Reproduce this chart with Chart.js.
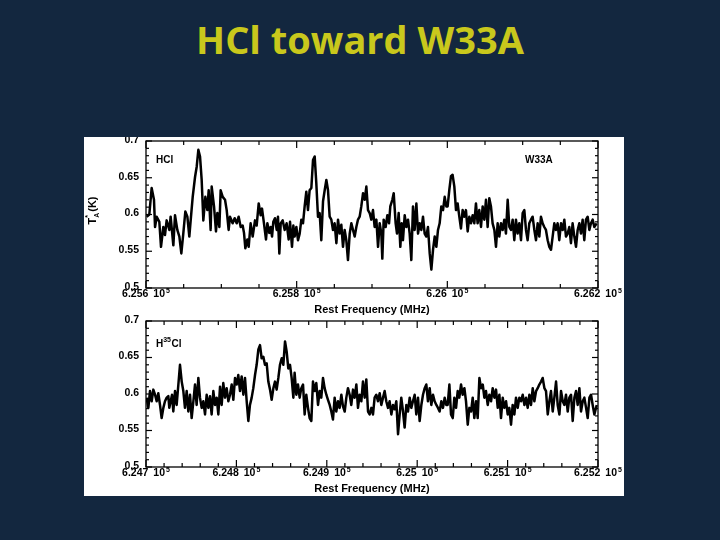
<!DOCTYPE html>
<html>
<head>
<meta charset="utf-8">
<script src="https://cdn.jsdelivr.net/npm/chart.js@4.4.1/dist/chart.umd.min.js"></script>
<style>
  html, body { margin:0; padding:0; }
  body { width:720px; height:540px; background:#13273f; position:relative; overflow:hidden; }
  #title { position:absolute; left:0; top:14px; width:720px; text-align:center;
           font-family:"Open Sans", sans-serif; font-weight:700; font-size:38px; line-height:50px;
           color:#c9c81c; }
  #box { position:absolute; left:84px; top:137px; width:540px; height:359px; background:#ffffff; }
  #c1 { position:absolute; left:0; top:0; }
  #c2 { position:absolute; left:0; top:178px; }
</style>
</head>
<body>
<div id="title">HCl toward W33A</div>
<div id="box">
  <canvas id="c1" width="540" height="178"></canvas>
  <canvas id="c2" width="540" height="181"></canvas>
</div>
<script>
// ---------- HCl spectrum (top panel) ----------
const freqHCl = [
  625600.9, 625604.4, 625607.5, 625610.6, 625612.0, 625614.2, 625617.7, 625619.9, 625623.0, 625625.2,
  625627.4, 625631.0, 625632.7, 625636.3, 625638.5, 625641.6, 625644.3, 625646.9, 625649.6, 625652.2,
  625654.9, 625657.5, 625659.3, 625662.0, 625665.1, 625667.3, 625669.5, 625671.7, 625673.9, 625676.1,
  625678.8, 625681.4, 625683.2, 625685.8, 625687.2, 625690.3, 625692.9, 625694.7, 625697.4, 625699.1,
  625701.8, 625704.9, 625707.1, 625709.7, 625711.5, 625715.0, 625717.7, 625720.4, 625723.0, 625725.7,
  625728.3, 625730.1, 625731.9, 625734.5, 625736.3, 625738.9, 625741.6, 625744.7, 625746.9, 625749.6,
  625752.2, 625754.0, 625756.6, 625759.3, 625761.1, 625763.7, 625765.5, 625767.3, 625769.0, 625771.2,
  625773.5, 625775.2, 625777.0, 625778.8, 625781.4, 625784.1, 625786.7, 625789.4, 625791.2, 625793.8,
  625795.6,
  625797.3, 625799.6, 625801.8, 625804.0, 625806.2, 625808.4, 625810.6, 625812.8, 625815.0, 625817.2,
  625819.5, 625821.7, 625823.9, 625826.1, 625828.3, 625830.5, 625832.7, 625835.0, 625837.2, 625839.4,
  625841.6, 625843.8, 625846.0, 625848.2, 625850.4, 625852.7, 625854.9, 625857.1, 625859.3, 625861.5,
  625863.7, 625865.9, 625868.1, 625870.4, 625872.6, 625874.8, 625877.0, 625879.2, 625881.4, 625883.6,
  625885.8, 625888.1, 625890.3, 625892.5, 625894.7, 625896.9, 625899.1, 625901.3, 625903.5, 625905.8,
  625908.0, 625910.2, 625912.4, 625913.7, 625915.5, 625918.1, 625920.4, 625922.6, 625924.3, 625927.0,
  625928.8, 625931.4, 625933.2, 625935.4, 625937.6, 625939.4, 625941.1, 625943.4, 625945.6, 625947.8,
  625950.0, 625952.2, 625954.4, 625956.6, 625958.9, 625961.1, 625963.3, 625965.5, 625967.7, 625969.9,
  625972.1, 625974.3, 625976.6, 625978.8, 625981.0, 625983.2, 625985.4, 625987.6, 625989.8, 625992.0,
  625994.3, 625996.5, 625998.7,
  626000.4, 626002.6, 626004.8, 626007.0, 626009.3, 626011.5, 626013.7, 626015.9, 626018.1, 626020.3,
  626022.5, 626024.7, 626027.0, 626029.2, 626031.4, 626033.6, 626035.8, 626038.0, 626040.2, 626042.4,
  626044.7, 626046.9, 626049.1, 626051.3, 626053.5, 626055.7, 626057.9, 626060.1, 626062.4, 626064.6,
  626066.8, 626069.0, 626071.2, 626073.4, 626075.6, 626077.8, 626080.1, 626082.3, 626084.5, 626086.7,
  626088.9, 626091.1, 626093.3, 626095.5, 626097.8, 626100.0, 626102.2, 626104.4, 626106.6, 626108.8,
  626111.0, 626113.2, 626115.5, 626117.7, 626119.9, 626122.1, 626124.3, 626126.5, 626128.7, 626130.9,
  626133.2, 626135.4, 626137.6, 626139.8, 626142.0, 626144.2, 626146.4, 626148.6, 626150.9, 626153.1,
  626155.3, 626157.5, 626159.7, 626161.9, 626164.1, 626166.3, 626168.6, 626170.8, 626173.0, 626175.2,
  626177.4, 626179.6, 626181.8, 626184.0, 626186.3, 626188.5, 626190.7, 626192.9, 626195.1, 626198.2
];
const tHCl = [
  0.597, 0.600, 0.636, 0.620, 0.583, 0.597, 0.590, 0.556, 0.583, 0.572,
  0.592, 0.579, 0.597, 0.558, 0.599, 0.579, 0.570, 0.547, 0.575, 0.604,
  0.597, 0.570, 0.592, 0.624, 0.651, 0.665, 0.688, 0.679, 0.647, 0.592,
  0.624, 0.606, 0.633, 0.579, 0.638, 0.611, 0.577, 0.602, 0.583, 0.633,
  0.624, 0.620, 0.606, 0.579, 0.597, 0.588, 0.595, 0.588, 0.597, 0.583,
  0.585, 0.575, 0.554, 0.566, 0.556, 0.588, 0.570, 0.592, 0.585, 0.615,
  0.599, 0.608, 0.588, 0.566, 0.588, 0.575, 0.583, 0.570, 0.590, 0.595,
  0.579, 0.597, 0.547, 0.588, 0.592, 0.579, 0.588, 0.566, 0.590, 0.556,
  0.585,
  0.570, 0.583, 0.565, 0.574, 0.593, 0.588, 0.611, 0.631, 0.606, 0.633,
  0.636, 0.674, 0.679, 0.642, 0.597, 0.602, 0.565, 0.618, 0.633, 0.647,
  0.633, 0.597, 0.593, 0.579, 0.588, 0.561, 0.593, 0.574, 0.586, 0.556,
  0.579, 0.565, 0.538, 0.574, 0.588, 0.579, 0.570, 0.583, 0.593, 0.597,
  0.611, 0.629, 0.620, 0.638, 0.606, 0.602, 0.593, 0.606, 0.583, 0.593,
  0.556, 0.588, 0.574, 0.540, 0.593, 0.583, 0.599, 0.588, 0.611, 0.620,
  0.629, 0.588, 0.574, 0.602, 0.556, 0.588, 0.565, 0.599, 0.583, 0.593,
  0.574, 0.538, 0.611, 0.579, 0.615, 0.574, 0.588, 0.579, 0.597, 0.574,
  0.570, 0.583, 0.547, 0.525, 0.552, 0.570, 0.556, 0.579, 0.588, 0.611,
  0.606, 0.624, 0.611,
  0.611, 0.633, 0.652, 0.654, 0.638, 0.606, 0.615, 0.597, 0.581, 0.606,
  0.597, 0.606, 0.577, 0.597, 0.588, 0.599, 0.588, 0.615, 0.588, 0.606,
  0.583, 0.611, 0.593, 0.620, 0.583, 0.622, 0.611, 0.588, 0.579, 0.556,
  0.588, 0.570, 0.588, 0.579, 0.593, 0.574, 0.620, 0.583, 0.579, 0.593,
  0.565, 0.593, 0.574, 0.588, 0.565, 0.602, 0.606, 0.579, 0.565, 0.588,
  0.593, 0.597, 0.579, 0.565, 0.588, 0.570, 0.597, 0.588, 0.583, 0.579,
  0.565, 0.556, 0.552, 0.570, 0.588, 0.579, 0.588, 0.565, 0.588, 0.579,
  0.593, 0.570, 0.574, 0.583, 0.561, 0.588, 0.570, 0.556, 0.579, 0.588,
  0.574, 0.593, 0.565, 0.593, 0.597, 0.579, 0.588, 0.593, 0.583, 0.588
];

// ---------- H35Cl spectrum (bottom panel) ----------
const freqH35Cl = [
  624700.7, 624702.6, 624704.4, 624706.3, 624708.1, 624710.0, 624711.8, 624713.6, 624715.5, 624717.3,
  624719.2, 624721.0, 624722.9, 624724.7, 624725.8, 624727.3, 624728.8, 624730.2, 624732.1, 624733.9,
  624735.8, 624737.6, 624739.5, 624741.3, 624743.1, 624745.0, 624746.8, 624748.7, 624750.5, 624752.4,
  624754.2, 624756.0, 624757.9, 624759.7, 624761.6, 624763.4, 624765.3, 624767.1, 624769.0, 624770.8,
  624772.6, 624774.5, 624776.3, 624778.2, 624780.0, 624781.9, 624783.7, 624785.5, 624787.4, 624789.2,
  624791.1, 624792.9, 624794.8, 624796.6, 624798.5, 624800.3, 624802.1, 624804.0, 624805.8, 624807.7,
  624809.5, 624811.4, 624813.2, 624815.0, 624816.9, 624818.7, 624820.6, 624822.4, 624824.3, 624826.1,
  624827.9, 624829.8, 624831.6, 624833.5, 624835.3, 624837.2, 624839.0, 624840.9, 624842.7, 624844.5,
  624846.4, 624848.2, 624850.1, 624851.9, 624853.8, 624855.6, 624857.4, 624859.3, 624861.1, 624863.0,
  624864.4, 624866.3, 624868.1, 624870.0, 624871.8, 624873.7, 624875.5, 624877.3, 624879.2, 624881.0,
  624882.9, 624884.7, 624886.6, 624888.4, 624890.3, 624892.1, 624893.9, 624895.8, 624897.6, 624899.5,
  624901.3, 624903.2, 624905.0, 624906.8, 624908.7, 624910.5, 624912.4, 624914.2, 624916.1, 624917.9,
  624919.8, 624921.6, 624923.4, 624925.3, 624927.1, 624929.0, 624930.8, 624932.7, 624934.5, 624936.3,
  624938.2, 624940.0, 624941.9, 624943.7, 624945.6, 624947.4, 624949.3, 624951.1, 624952.9, 624954.8,
  624956.6, 624958.5, 624960.3, 624962.2, 624964.0, 624965.8, 624967.7, 624969.5, 624971.4, 624973.2,
  624975.1, 624976.9, 624978.8, 624980.6, 624982.4, 624984.3, 624986.1, 624988.0, 624989.8, 624991.7,
  624993.5, 624995.3, 624997.2, 624999.0, 625000.9, 625002.7, 625004.6, 625006.4, 625008.3, 625010.1,
  625011.9, 625013.8, 625015.6, 625017.5, 625019.3, 625021.2, 625023.0, 625024.8, 625026.7, 625028.5,
  625030.4, 625032.2,
  625033.7, 625035.6, 625037.4, 625039.3, 625041.1, 625043.0, 625044.8, 625046.6, 625048.5, 625050.3,
  625052.2, 625054.0, 625055.9, 625057.7, 625059.6, 625061.4, 625063.2, 625065.1, 625066.9, 625068.8,
  625070.6, 625072.5, 625074.3, 625076.1, 625078.0, 625079.8, 625081.7, 625083.5, 625085.4, 625087.2,
  625089.1, 625090.9, 625092.7, 625094.6, 625096.4, 625098.3, 625100.1, 625101.9, 625103.8, 625105.6,
  625107.5, 625109.3, 625111.2, 625113.0, 625114.9, 625116.7, 625118.6, 625120.4, 625122.2, 625124.1,
  625125.9, 625127.8, 625129.6, 625131.5, 625133.3, 625135.1, 625137.0, 625138.8, 625140.7, 625142.5,
  625144.4, 625146.2, 625148.0, 625149.9, 625151.7, 625153.6, 625155.4, 625157.3, 625159.1, 625161.0,
  625162.8, 625164.6, 625166.5, 625168.3, 625170.2, 625172.0, 625173.9, 625175.7, 625177.5, 625179.4,
  625181.2, 625183.1, 625184.9, 625186.8, 625188.6, 625190.5, 625192.3, 625194.1, 625196.0, 625198.6
];
const tH35Cl = [
  0.595, 0.581, 0.604, 0.590, 0.606, 0.599, 0.590, 0.601, 0.585, 0.567,
  0.581, 0.590, 0.595, 0.597, 0.581, 0.590, 0.599, 0.576, 0.604, 0.585,
  0.613, 0.640, 0.617, 0.604, 0.581, 0.604, 0.576, 0.599, 0.567, 0.590,
  0.613, 0.585, 0.622, 0.595, 0.581, 0.590, 0.572, 0.599, 0.581, 0.597,
  0.572, 0.604, 0.585, 0.595, 0.572, 0.610, 0.585, 0.615, 0.595, 0.608,
  0.590, 0.599, 0.613, 0.592, 0.622, 0.613, 0.626, 0.604, 0.624, 0.599,
  0.622, 0.590, 0.563, 0.585, 0.595, 0.608, 0.626, 0.640, 0.661, 0.667,
  0.649, 0.651, 0.640, 0.642, 0.617, 0.606, 0.592, 0.608, 0.617, 0.606,
  0.622, 0.640, 0.649, 0.640, 0.672, 0.658, 0.635, 0.640, 0.622, 0.595,
  0.629, 0.599, 0.613, 0.595, 0.608, 0.613, 0.572, 0.599, 0.581, 0.567,
  0.563, 0.617, 0.604, 0.615, 0.585, 0.604, 0.595, 0.622, 0.608, 0.599,
  0.592, 0.585, 0.576, 0.565, 0.595, 0.576, 0.590, 0.581, 0.599, 0.583,
  0.576, 0.595, 0.608, 0.599, 0.585, 0.606, 0.595, 0.613, 0.581, 0.599,
  0.590, 0.617, 0.595, 0.620, 0.576, 0.572, 0.581, 0.572, 0.595, 0.599,
  0.590, 0.601, 0.585, 0.595, 0.604, 0.590, 0.581, 0.590, 0.572, 0.585,
  0.579, 0.590, 0.545, 0.572, 0.595, 0.576, 0.554, 0.585, 0.576, 0.595,
  0.581, 0.590, 0.599, 0.572, 0.595, 0.563, 0.585, 0.599, 0.608, 0.613,
  0.590, 0.608, 0.585, 0.599, 0.590, 0.585, 0.581, 0.576, 0.590, 0.581,
  0.595, 0.585,
  0.585, 0.613, 0.572, 0.567, 0.595, 0.581, 0.604, 0.595, 0.613, 0.599,
  0.608, 0.590, 0.558, 0.581, 0.576, 0.595, 0.567, 0.590, 0.567, 0.622,
  0.608, 0.613, 0.595, 0.604, 0.585, 0.599, 0.590, 0.608, 0.595, 0.606,
  0.581, 0.599, 0.567, 0.595, 0.581, 0.590, 0.572, 0.581, 0.558, 0.585,
  0.572, 0.595, 0.581, 0.595, 0.590, 0.599, 0.585, 0.595, 0.581, 0.599,
  0.585, 0.608, 0.590, 0.604, 0.608, 0.613, 0.617, 0.622, 0.608, 0.604,
  0.572, 0.590, 0.604, 0.576, 0.595, 0.617, 0.585, 0.572, 0.604, 0.590,
  0.585, 0.599, 0.576, 0.595, 0.599, 0.563, 0.595, 0.604, 0.585, 0.608,
  0.576, 0.590, 0.595, 0.581, 0.567, 0.595, 0.599, 0.585, 0.572, 0.585
];

// ---------- axis ticks and labels ----------
const hclXTicks = [625600, 625800, 626000, 626200];
const hclXTickLabels = ['6.256', '6.258', '6.26', '6.262'];
const h35XTicks = [624700, 624800, 624900, 625000, 625100, 625200];
const h35XTickLabels = ['6.247', '6.248', '6.249', '6.25', '6.251', '6.252'];
const yTicks = [0.5, 0.55, 0.6, 0.65, 0.7];
const yTickLabels = ['0.5', '0.55', '0.6', '0.65', '0.7'];
const xAxisTitle = 'Rest Frequency (MHz)';

const FONT = '"Liberation Sans", Arial, sans-serif';

const framePlugin = {
  id: 'specFrame',
  afterDatasetsDraw(chart, args, o) {
    const { ctx, chartArea: a, scales: { x, y } } = chart;
    ctx.save();
    ctx.strokeStyle = '#000';
    ctx.lineWidth = 1.3;
    ctx.strokeRect(a.left, a.top, a.right - a.left, a.bottom - a.top);
    ctx.lineWidth = 1.2;
    const seg = (x1, y1, x2, y2) => { ctx.beginPath(); ctx.moveTo(x1, y1); ctx.lineTo(x2, y2); ctx.stroke(); };
    // x ticks (bottom and top frame, pointing inward)
    const nx = Math.round((x.max - x.min) / o.xMinorStep);
    for (let i = 0; i <= nx; i++) {
      const v = x.min + i * o.xMinorStep;
      const px = x.getPixelForValue(v);
      const major = o.xTicks.some(t => Math.abs(t - v) < 1e-6);
      const len = major ? 7 : 4;
      seg(px, a.bottom, px, a.bottom - len);
      seg(px, a.top, px, a.top + len);
    }
    // y ticks (left and right frame)
    const ny = Math.round((y.max - y.min) / o.yMinorStep);
    for (let i = 0; i <= ny; i++) {
      const v = y.min + i * o.yMinorStep;
      const py = y.getPixelForValue(v);
      const major = yTicks.some(t => Math.abs(t - v) < 1e-6);
      const len = major ? 6 : 3;
      seg(a.left, py, a.left + len, py);
      seg(a.right, py, a.right - len, py);
    }
    ctx.fillStyle = '#000';
    // y tick labels
    ctx.font = 'bold 10.5px ' + FONT;
    ctx.textAlign = 'right';
    ctx.textBaseline = 'middle';
    yTicks.forEach((v, i) => ctx.fillText(yTickLabels[i], a.left - 7, y.getPixelForValue(v) - 1));
    // x tick labels "m 10^5"
    ctx.textBaseline = 'alphabetic';
    ctx.textAlign = 'left';
    o.xTicks.forEach((v, i) => {
      const px = x.getPixelForValue(v);
      ctx.font = 'bold 10.5px ' + FONT;
      const w1 = ctx.measureText(o.xLabels[i]).width;
      const w2 = ctx.measureText('10').width;
      ctx.font = 'bold 7px ' + FONT;
      const w3 = ctx.measureText('5').width;
      const gap = 5;
      const total = w1 + gap + w2 + 1 + w3;
      let sx = px - total / 2;
      const by = a.bottom + 9;
      ctx.font = 'bold 10.5px ' + FONT;
      ctx.fillText(o.xLabels[i], sx, by);
      ctx.fillText('10', sx + w1 + gap, by);
      ctx.font = 'bold 7px ' + FONT;
      ctx.fillText('5', sx + w1 + gap + w2 + 1, by - 4);
    });
    // x axis title
    ctx.font = 'bold 11px ' + FONT;
    ctx.textAlign = 'center';
    ctx.fillText(xAxisTitle, (a.left + a.right) / 2, a.bottom + 25);
    // in-panel labels
    ctx.textAlign = 'left';
    (o.labels || []).forEach(l => {
      let cx = l.fromRight ? a.right - l.dx : a.left + l.dx;
      const by = a.top + l.dy;
      l.parts.forEach(p => {
        ctx.font = 'bold ' + (p.sup ? 7 : 10) + 'px ' + FONT;
        ctx.fillText(p.t, cx, by - (p.sup ? 5 : 0));
        cx += ctx.measureText(p.t).width + (p.sup ? 0.5 : 0);
      });
    });
    // y axis title  T_A^* (K)
    if (o.yTitle) {
      ctx.save();
      ctx.translate(a.left - 50, (a.top + a.bottom) / 2 - 4);
      ctx.rotate(-Math.PI / 2);
      ctx.textAlign = 'left';
      ctx.font = 'bold 11px ' + FONT;
      const wT = ctx.measureText('T').width;
      ctx.font = 'bold 7px ' + FONT;
      const wA = ctx.measureText('A').width;
      ctx.font = 'bold 11px ' + FONT;
      const wK = ctx.measureText('(K)').width;
      let sx = -(wT + wA + 1 + wK) / 2;
      ctx.fillText('T', sx, 0);
      ctx.font = 'bold 7px ' + FONT;
      ctx.fillText('A', sx + wT, 3);
      ctx.fillText('*', sx + wT, -6);
      ctx.font = 'bold 11px ' + FONT;
      ctx.fillText('(K)', sx + wT + wA + 1, 0);
      ctx.restore();
    }
    ctx.restore();
  }
};

function makeChart(id, freq, temp, xmin, xmax, opts, padding) {
  return new Chart(document.getElementById(id), {
    type: 'line',
    data: {
      datasets: [{
        data: freq.map((f, i) => ({ x: f, y: temp[i] })),
        borderColor: '#000000',
        borderWidth: 2.5,
        pointRadius: 0,
        tension: 0,
        borderJoinStyle: 'round',
        fill: false
      }]
    },
    options: {
      responsive: false,
      animation: false,
      layout: { padding },
      scales: {
        x: { type: 'linear', min: xmin, max: xmax, display: false },
        y: { min: 0.5, max: 0.7, display: false }
      },
      plugins: {
        legend: { display: false },
        tooltip: { enabled: false },
        specFrame: opts
      }
    },
    plugins: [framePlugin]
  });
}

makeChart('c1', freqHCl, tHCl, 625600, 626200, {
  xTicks: hclXTicks, xLabels: hclXTickLabels, xMinorStep: 50, yMinorStep: 0.01, yTitle: true,
  labels: [
    { dx: 10, dy: 22, parts: [{ t: 'HCl' }] },
    { dx: 73, dy: 22, fromRight: true, parts: [{ t: 'W33A' }] }
  ]
}, { left: 62, right: 26, top: 4, bottom: 27 });

makeChart('c2', freqH35Cl, tH35Cl, 624700, 625200, {
  xTicks: h35XTicks, xLabels: h35XTickLabels, xMinorStep: 20, yMinorStep: 0.01, yTitle: false,
  labels: [
    { dx: 10, dy: 26, parts: [{ t: 'H' }, { t: '35', sup: true }, { t: 'Cl' }] }
  ]
}, { left: 62, right: 26, top: 6, bottom: 29 });
</script>
</body>
</html>
